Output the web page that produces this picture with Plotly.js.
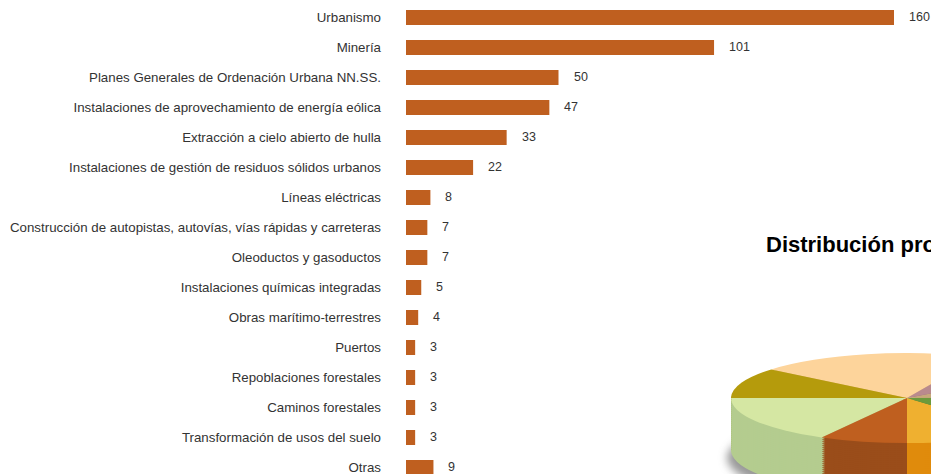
<!DOCTYPE html>
<html>
<head>
<meta charset="utf-8">
<script src="https://cdn.plot.ly/plotly-3.0.1.min.js"></script>
<style>
html,body{margin:0;padding:0;width:931px;height:474px;overflow:hidden;background:#fff;}
#chart{position:absolute;left:0;top:0;width:931px;height:474px;}
#shadow{position:absolute;left:727px;top:413px;width:352px;height:90px;border-radius:50%;background:rgba(70,70,70,0.55);filter:blur(4px);pointer-events:none;}
#pie{position:absolute;left:707px;top:353px;width:400px;height:555px;transform:scaleY(0.256);transform-origin:0 0;pointer-events:none;}
</style>
</head>
<body>
<div id="chart"></div>
<div id="shadow"></div>
<div id="pie"></div>
<script>
// ---- Bar chart data ----
const categories = [
  "Urbanismo",
  "Minería",
  "Planes Generales de Ordenación Urbana NN.SS.",
  "Instalaciones de aprovechamiento de energía eólica",
  "Extracción a cielo abierto de hulla",
  "Instalaciones de gestión de residuos sólidos urbanos",
  "Líneas eléctricas",
  "Construcción de autopistas, autovías, vías rápidas y carreteras",
  "Oleoductos y gasoductos",
  "Instalaciones químicas integradas",
  "Obras marítimo-terrestres",
  "Puertos",
  "Repoblaciones forestales",
  "Caminos forestales",
  "Transformación de usos del suelo",
  "Otras"
];
const values = [160, 101, 50, 47, 33, 22, 8, 7, 7, 5, 4, 3, 3, 3, 3, 9];

// ---- Cropped pie chart (partially visible) ----
const pieTitle = "Distribución provincial";
const pieLabels = ["S1", "S2", "S3", "S4", "S5", "S6", "S7", "S8"];
const pieValues = [74.5, 39.5, 61, 29, 41, 50, 36, 29];
const pieTopColors = ["#FDD49B", "#B59B0C", "#D5E7A3", "#BF5F1F", "#EFB030", "#6B9A3C", "#C6A87A", "#B98A8E"];
const pieSideColors = ["#E3B87E", "#8F7A08", "#B4CC8F", "#9A4D1A", "#E08B0C", "#4F7A2A", "#A88C60", "#987074"];

const barColor = "#BF5F1F";
const font = "Liberation Sans, Arial, sans-serif";

const barTrace = {
  type: "bar",
  orientation: "h",
  x: values,
  y: categories,
  marker: {color: barColor},
  hoverinfo: "skip",
  showlegend: false
};

const annotations = values.map((v, i) => ({
  x: v, y: categories[i], xref: "x", yref: "y",
  text: String(v), showarrow: false,
  xanchor: "left", xshift: 13,
  font: {family: font, size: 12.5, color: "#333"}
}));
annotations.push({
  xref: "paper", yref: "paper",
  x: (764 - 406) / 525, y: 1 - 244 / 474,
  xanchor: "left", yanchor: "middle",
  text: "<b>" + pieTitle + "</b>", showarrow: false,
  font: {family: font, size: 22, color: "#000"}
});

const layout = {
  width: 931, height: 474,
  margin: {l: 406, r: 0, t: 0, b: 0},
  paper_bgcolor: "#fff", plot_bgcolor: "rgba(0,0,0,0)",
  bargap: 0.5,
  hovermode: false,
  font: {family: font, size: 13.3, color: "#333"},
  xaxis: {range: [0, 525 / 3.05], visible: false, showgrid: false, zeroline: false},
  yaxis: {
    type: "category", categoryorder: "array", categoryarray: categories,
    range: [15.217, -0.583], autorange: false,
    showgrid: false, zeroline: false, showline: false, ticks: "",
    ticklabelstandoff: 24,
    tickfont: {family: font, size: 13.3, color: "#333"}
  },
  annotations: annotations
};

Plotly.newPlot("chart", [barTrace], layout, {staticPlot: true, displayModeBar: false});

// Pie: stacked layers to imitate a 3D extruded pie, squashed by CSS scaleY
const H = 555, D = 352, depth = 203, N = 26;
const pieTraces = [];
for (let i = 0; i <= N; i++) {
  const off = depth * (1 - i / N);
  const top = (i === N);
  pieTraces.push({
    type: "pie",
    values: pieValues,
    labels: pieLabels,
    sort: false,
    direction: "counterclockwise",
    rotation: -50.5,
    textinfo: "none",
    hoverinfo: "skip",
    showlegend: false,
    marker: {colors: top ? pieTopColors : pieSideColors, line: {width: 0}},
    domain: {x: [24 / 400, 376 / 400], y: [1 - (off + D) / H, 1 - off / H]}
  });
}
Plotly.newPlot("pie", pieTraces, {
  width: 400, height: H,
  margin: {l: 0, r: 0, t: 0, b: 0},
  paper_bgcolor: "rgba(0,0,0,0)",
  showlegend: false
}, {staticPlot: true, displayModeBar: false});
</script>
</body>
</html>
